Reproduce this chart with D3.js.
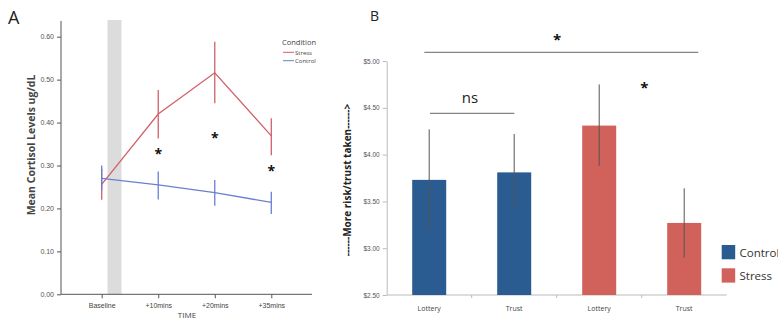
<!DOCTYPE html>
<html><head><meta charset="utf-8">
<script src="https://cdn.jsdelivr.net/npm/d3@7"></script>
<style>html,body{margin:0;padding:0;background:#fff;}svg{display:block;font-family:"Open Sans","DejaVu Sans",sans-serif;}</style>
</head><body>
<svg id="c" width="778" height="322"></svg>
<script>
// Panel A data
const timeLabels = ["Baseline", "+10mins", "+20mins", "+35mins"];
const stressMean = [0.256, 0.420, 0.516, 0.369];
const stressLow  = [0.220, 0.363, 0.445, 0.324];
const stressHigh = [0.292, 0.476, 0.588, 0.410];
const controlMean = [0.270, 0.255, 0.237, 0.214];
const controlLow  = [0.242, 0.221, 0.206, 0.187];
const controlHigh = [0.300, 0.286, 0.266, 0.239];
const starValues = [null, 0.330, 0.366, 0.290];
const yTicksA = [0, 0.1, 0.2, 0.3, 0.4, 0.5, 0.6];

// Panel B data
const barLabels = ["Lottery", "Trust", "Lottery", "Trust"];
const barGroups = ["Control", "Control", "Stress", "Stress"];
const barValues = [3.73, 3.81, 4.31, 3.27];
const barLow    = [3.19, 3.41, 3.88, 2.90];
const barHigh   = [4.27, 4.22, 4.75, 3.64];
const yTicksB = [2.5, 3.0, 3.5, 4.0, 4.5, 5.0];

const svg = d3.select("#c");
const red = "#d0606a", blue = "#6b7fd0";

// ---------- Panel A ----------
const gA = svg.append("g");
const xA = d3.scalePoint().domain(timeLabels).range([61, 312]).padding(0.72);
const yA = d3.scaleLinear().domain([0, 0.6]).range([294.3, 36.7]);

// shaded band
gA.append("rect").attr("x", 107.5).attr("y", 20).attr("width", 14).attr("height", yA(0) - 20).attr("fill", "#dcdcdc");

// axes
const axA = gA.append("g").attr("transform", "translate(61,0)")
  .call(d3.axisLeft(yA).tickValues(yTicksA).tickFormat(d3.format(".2f")).tickSize(4).tickSizeOuter(0));
axA.select(".domain").remove();
gA.append("line").attr("x1", 61).attr("x2", 61).attr("y1", 21).attr("y2", yA(0)).attr("stroke", "#555").attr("stroke-width", 1);
axA.selectAll("line").attr("stroke", "#555");
axA.selectAll("text").attr("font-size", 7).attr("fill", "#555");

const axAx = gA.append("g").attr("transform", `translate(0,${yA(0)})`)
  .call(d3.axisBottom(xA).tickSize(4).tickSizeOuter(0));
axAx.select(".domain").remove();
gA.append("line").attr("x1", 61).attr("x2", 312).attr("y1", yA(0)).attr("y2", yA(0)).attr("stroke", "#555");
axAx.selectAll("line").attr("stroke", "#555");
axAx.selectAll("text").attr("font-size", 7).attr("fill", "#444").attr("dy", "0.9em");

gA.append("text").attr("x", 187).attr("y", 318).attr("text-anchor", "middle").attr("font-size", 8).attr("fill", "#444").text("TIME");
gA.append("text").attr("transform", "translate(35,145) rotate(-90)").attr("text-anchor", "middle")
  .attr("font-size", 10.5).attr("font-weight", "bold").attr("fill", "#444").text("Mean Cortisol Levels ug/dL");
gA.append("text").attr("x", 8).attr("y", 24).attr("font-size", 18).attr("fill", "#222").text("A");

function series(mean, low, high, color) {
  const line = d3.line().x((d, i) => xA(timeLabels[i])).y(d => yA(d));
  gA.append("path").datum(mean).attr("d", line).attr("fill", "none").attr("stroke", color).attr("stroke-width", 1.3);
  gA.selectAll(null).data(mean).enter().append("line")
    .attr("x1", (d, i) => xA(timeLabels[i])).attr("x2", (d, i) => xA(timeLabels[i]))
    .attr("y1", (d, i) => yA(low[i])).attr("y2", (d, i) => yA(high[i]))
    .attr("stroke", color).attr("stroke-width", 1.3);
}
series(stressMean, stressLow, stressHigh, red);
series(controlMean, controlLow, controlHigh, blue);

gA.selectAll(null).data(starValues.map((v, i) => ({v, i})).filter(d => d.v !== null)).enter().append("text")
  .attr("x", d => xA(timeLabels[d.i])).attr("y", d => yA(d.v) + 6).attr("text-anchor", "middle")
  .attr("font-size", 14).attr("font-weight", "bold").attr("fill", "#111").text("*");

// legend A
gA.append("text").attr("x", 282).attr("y", 44.5).attr("font-size", 7.5).attr("fill", "#444").text("Condition");
[["Stress", red, 52.3], ["Control", blue, 60.7]].forEach(([t, c, y]) => {
  gA.append("line").attr("x1", 283).attr("x2", 294).attr("y1", y).attr("y2", y).attr("stroke", c).attr("stroke-width", 1);
  gA.append("text").attr("x", 295).attr("y", y + 2.2).attr("font-size", 6).attr("fill", "#444").text(t);
});

// ---------- Panel B ----------
const gB = svg.append("g");
const xB = d3.scaleBand().domain(d3.range(barValues.length)).range([386.7, 726.7]).paddingInner(0.6).paddingOuter(0.3);
const yB = d3.scaleLinear().domain([2.5, 5.0]).range([295, 61]);
const colB = d3.scaleOrdinal().domain(["Control", "Stress"]).range(["#2b5c91", "#d0625b"]);

const axB = gB.append("g").attr("transform", "translate(386.7,0)")
  .call(d3.axisLeft(yB).tickValues(yTicksB).tickFormat(d => "$" + d3.format(".2f")(d)).tickSize(4).tickSizeOuter(0));
axB.select(".domain").attr("stroke", "#bbb");
axB.selectAll("line").attr("stroke", "#bbb");
axB.selectAll("text").attr("font-size", 6.5).attr("fill", "#555");

gB.append("line").attr("x1", 386.7).attr("x2", 726.7).attr("y1", yB(2.5)).attr("y2", yB(2.5)).attr("stroke", "#bbb");
const step = xB.step();
gB.selectAll(null).data(d3.range(1, barValues.length)).enter().append("line")
  .attr("x1", d => 386.7 + d * step).attr("x2", d => 386.7 + d * step)
  .attr("y1", yB(2.5)).attr("y2", yB(2.5) + 3).attr("stroke", "#bbb");
gB.selectAll(null).data(barLabels).enter().append("text")
  .attr("x", (d, i) => xB(i) + xB.bandwidth() / 2).attr("y", 311).attr("text-anchor", "middle")
  .attr("font-size", 7).attr("fill", "#444").text(d => d);

gB.selectAll(null).data(barValues).enter().append("rect")
  .attr("x", (d, i) => xB(i)).attr("width", xB.bandwidth())
  .attr("y", d => yB(d)).attr("height", d => yB(2.5) - yB(d))
  .attr("fill", (d, i) => colB(barGroups[i]));
gB.selectAll(null).data(barValues).enter().append("line")
  .attr("x1", (d, i) => xB(i) + xB.bandwidth() / 2).attr("x2", (d, i) => xB(i) + xB.bandwidth() / 2)
  .attr("y1", (d, i) => yB(barLow[i])).attr("y2", (d, i) => yB(barHigh[i]))
  .attr("stroke", "#555").attr("stroke-width", 1);

gB.append("text").attr("transform", "translate(351,180) rotate(-90)").attr("text-anchor", "middle")
  .attr("font-size", 10).attr("font-weight", "bold").attr("fill", "#222").text("------More risk/trust taken------>");
gB.append("text").attr("x", 370).attr("y", 21).attr("font-size", 14).attr("fill", "#222").text("B");

// significance markers
gB.append("line").attr("x1", 424.3).attr("x2", 698.3).attr("y1", 52.3).attr("y2", 52.3).attr("stroke", "#666");
gB.append("text").attr("x", 557).attr("y", 45).attr("text-anchor", "middle").attr("font-size", 15).attr("font-weight", "bold").attr("fill", "#111").text("*");
gB.append("line").attr("x1", 430).attr("x2", 514.3).attr("y1", 113.3).attr("y2", 113.3).attr("stroke", "#666");
gB.append("text").attr("x", 470).attr("y", 103).attr("text-anchor", "middle").attr("font-size", 15).attr("fill", "#222").text("ns");
gB.append("text").attr("x", 644.3).attr("y", 93).attr("text-anchor", "middle").attr("font-size", 15).attr("font-weight", "bold").attr("fill", "#111").text("*");

// legend B
["Control", "Stress"].forEach((g, i) => {
  const y = 245 + i * 23.3;
  gB.append("rect").attr("x", 721.7).attr("y", y).attr("width", 13.5).attr("height", 14.3).attr("fill", colB(g));
  gB.append("text").attr("x", 739.5).attr("y", y + 11.5).attr("font-size", 11.5).attr("fill", "#333").text(g);
});
</script>
</body></html>
